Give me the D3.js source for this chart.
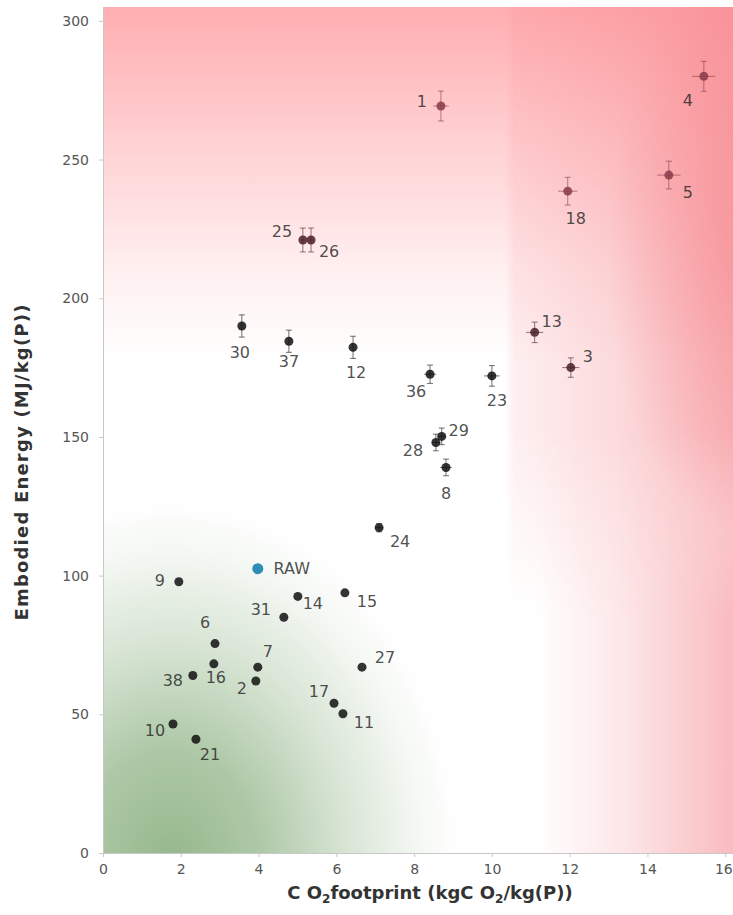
<!DOCTYPE html>
<html>
<head>
<meta charset="utf-8">
<script src="https://cdn.jsdelivr.net/npm/d3@7"></script>
<style>
  body { margin: 0; background: #fff; }
  svg { display: block; font-family: "DejaVu Sans", sans-serif; }
</style>
</head>
<body>
<svg id="chart" width="733" height="915"></svg>
<script>
// sample ids and values
var ids = ['1', '4', '5', '18', '25', '26', '30', '37', '12', '36', '23', '13', '3', '29', '28', '8',
    '24', 'RAW', '9', '14', '15', '31', '6', '16', '7', '2', '38', '27', '17', '11', '10', '21'];
var co2 = [8.69, 15.45, 14.55, 11.95, 5.14, 5.35, 3.57, 4.78, 6.43, 8.41, 10.0, 11.1, 12.03, 8.71, 8.56, 8.82,
    7.10, 3.98, 1.95, 5.01, 6.22, 4.65, 2.88, 2.85, 3.98, 3.93, 2.31, 6.66, 5.94, 6.17, 1.80, 2.39];
var energy = [269.3, 280, 244.4, 238.6, 221, 221, 190, 184.5, 182.3, 172.6, 172, 187.7, 175, 150.2, 148, 139,
    117.3, 102.5, 97.8, 92.5, 93.8, 85, 75.5, 68.2, 67, 62, 64, 67, 54, 50.2, 46.5, 41];
var co2Err = [0.2, 0.3, 0.3, 0.25, 0.05, 0.05, 0, 0, 0, 0.15, 0.2, 0.22, 0.22, 0.1, 0.1, 0.15,
    0.1, 0, 0, 0, 0, 0, 0, 0, 0, 0, 0, 0, 0, 0, 0, 0];
var energyErr = [5.4, 5.4, 5, 5, 4.3, 4.3, 4, 4, 4, 3.3, 3.7, 3.7, 3.5, 3, 3, 3,
    1.5, 0, 0, 0, 0, 0, 0, 0, 0, 0, 0, 0, 0, 0, 0, 0];
var highGroup = ['1', '4', '5', '18'];
var midGroup = ['13', '3', '25', '26'];

var xTicks = [0, 2, 4, 6, 8, 10, 12, 14, 16];
var yTicks = [0, 50, 100, 150, 200, 250, 300];

var points = ids.map(function(id, i) {
    return {id: id, x: co2[i], y: energy[i], ex: co2Err[i], ey: energyErr[i]};
});

var pLeft = 103, pRight = 733, pTop = 7, pBottom = 853;

var x = d3.scaleLinear().domain([0, 16.2]).range([pLeft, pRight]);
var y = d3.scaleLinear().domain([0, 305]).range([pBottom, pTop]);

var svg = d3.select('#chart');
var defs = svg.append('defs');

function addStops(grad, color, stops) {
    stops.forEach(function(s) {
        grad.append('stop').attr('offset', s[0]).attr('stop-color', color).attr('stop-opacity', s[1]);
    });
}

// background colour field
var pink = '#ffaeb1', red = '#f5838a', green = '#8db283';

var topGrad = defs.append('linearGradient').attr('id', 'topGrad')
    .attr('x1', 0).attr('y1', 0).attr('x2', 0).attr('y2', 1);
addStops(topGrad, pink, [[0, 1], [0.4, 0.55], [0.75, 0.18], [1, 0]]);

var sideGradA = defs.append('linearGradient').attr('id', 'sideGradA')
    .attr('x1', 0).attr('y1', 0).attr('x2', 1).attr('y2', 0);
addStops(sideGradA, red, [[0, 0], [0.04, 0.13], [0.5, 0.3], [1, 0.6]]);

var sideGradB = defs.append('linearGradient').attr('id', 'sideGradB')
    .attr('x1', 0).attr('y1', 0).attr('x2', 1).attr('y2', 0);
addStops(sideGradB, red, [[0, 0], [0.45, 0.2], [1, 0.55]]);

var edgeGrad = defs.append('radialGradient').attr('id', 'edgeGrad')
    .attr('gradientUnits', 'userSpaceOnUse')
    .attr('cx', 0).attr('cy', 0).attr('r', 1)
    .attr('gradientTransform', 'translate(745,250) scale(140,280)');
addStops(edgeGrad, red, [[0, 0.5], [0.5, 0.25], [1, 0]]);

// vertical masks to hand over the upper and lower side bands
function vMask(id, stops) {
    var g = defs.append('linearGradient').attr('id', id + 'G')
        .attr('gradientUnits', 'userSpaceOnUse')
        .attr('x1', 0).attr('y1', pTop).attr('x2', 0).attr('y2', pBottom);
    stops.forEach(function(s) { g.append('stop').attr('offset', s[0]).attr('stop-color', s[1]); });
    defs.append('mask').attr('id', id)
        .append('rect')
        .attr('x', pLeft).attr('y', pTop).attr('width', pRight - pLeft).attr('height', pBottom - pTop)
        .attr('fill', 'url(#' + id + 'G)');
}
vMask('maskA', [[0, '#fff'], [0.5, '#fff'], [0.72, '#000'], [1, '#000']]);
vMask('maskB', [[0, '#000'], [0.5, '#000'], [0.72, '#fff'], [1, '#fff']]);

var greenGrad = defs.append('radialGradient').attr('id', 'greenGrad')
    .attr('gradientUnits', 'userSpaceOnUse')
    .attr('cx', 0).attr('cy', 0).attr('r', 1)
    .attr('gradientTransform', 'translate(170,860) scale(290,360)');
addStops(greenGrad, green, [[0, 0.92], [0.3, 0.72], [0.6, 0.35], [0.85, 0.1], [1, 0]]);

var bg = svg.append('g');
bg.append('rect')
    .attr('x', pLeft).attr('y', pTop).attr('width', pRight - pLeft).attr('height', pBottom - pTop)
    .attr('fill', '#fff');
bg.append('rect')
    .attr('x', pLeft).attr('y', pTop).attr('width', pRight - pLeft).attr('height', 355)
    .attr('fill', 'url(#topGrad)');
bg.append('rect')
    .attr('x', pLeft).attr('y', pTop).attr('width', pRight - pLeft).attr('height', pBottom - pTop)
    .attr('fill', 'url(#greenGrad)');
bg.append('rect')
    .attr('x', 505).attr('y', pTop).attr('width', pRight - 505).attr('height', pBottom - pTop)
    .attr('fill', 'url(#sideGradA)')
    .attr('mask', 'url(#maskA)');
bg.append('rect')
    .attr('x', 535).attr('y', pTop).attr('width', pRight - 535).attr('height', pBottom - pTop)
    .attr('fill', 'url(#sideGradB)')
    .attr('mask', 'url(#maskB)');
bg.append('rect')
    .attr('x', pLeft).attr('y', pTop).attr('width', pRight - pLeft).attr('height', pBottom - pTop)
    .attr('fill', 'url(#edgeGrad)');

// axes
var xAxis = svg.append('g')
    .attr('transform', 'translate(0,' + pBottom + ')')
    .call(d3.axisBottom(x).tickValues(xTicks).tickSize(4).tickSizeOuter(0));
var yAxis = svg.append('g')
    .attr('transform', 'translate(' + pLeft + ',0)')
    .call(d3.axisLeft(y).tickValues(yTicks).tickSize(4).tickSizeOuter(0));

[xAxis, yAxis].forEach(function(a) {
    a.select('.domain').attr('stroke', '#c8c8c8');
    a.selectAll('.tick line').attr('stroke', '#c8c8c8');
    a.selectAll('.tick text')
        .attr('fill', '#555')
        .style('font-size', '14px')
        .style('font-family', '"DejaVu Sans", sans-serif');
});
xAxis.selectAll('.tick text').attr('dy', '1.0em');
// keep the last label inside the page
xAxis.selectAll('.tick text').filter(function(d) { return d == 16; })
    .attr('text-anchor', 'end').attr('x', 7);
yAxis.selectAll('.tick text').attr('x', -14);

// axis titles
var xTitle = svg.append('text')
    .attr('x', 430).attr('y', 899)
    .attr('text-anchor', 'middle')
    .attr('font-weight', 'bold')
    .attr('font-size', 18)
    .attr('fill', '#333');
xTitle.append('tspan').text('C O');
xTitle.append('tspan').attr('font-size', 12).attr('dy', 4).text('2');
xTitle.append('tspan').attr('dy', -4).text('footprint (kgC O');
xTitle.append('tspan').attr('font-size', 12).attr('dy', 4).text('2');
xTitle.append('tspan').attr('dy', -4).text('/kg(P))');

svg.append('text')
    .attr('transform', 'translate(28,462) rotate(-90)')
    .attr('text-anchor', 'middle')
    .attr('font-weight', 'bold')
    .attr('font-size', 18)
    .attr('letter-spacing', 1.2)
    .attr('fill', '#333')
    .text('Embodied Energy (MJ/kg(P))');

// marker colours
function markColor(id) {
    if (id == 'RAW') return '#2f8cb8';
    if (highGroup.includes(id)) return '#8a3a48';
    if (midGroup.includes(id)) return '#4a2028';
    return '#111';
}

var marks = svg.append('g');

// error bars
var bars = marks.selectAll('.err')
    .data(points.filter(function(d) { return d.ey > 0 || d.ex > 0; }))
    .enter()
    .append('g')
    .attr('class', 'err')
    .attr('stroke', function(d) { return markColor(d.id); })
    .attr('stroke-opacity', 0.6)
    .attr('stroke-width', 1);

bars.filter(function(d) { return d.ey > 0; }).each(function(d) {
    var g = d3.select(this);
    var cx = x(d.x);
    g.append('line').attr('x1', cx).attr('x2', cx).attr('y1', y(d.y - d.ey)).attr('y2', y(d.y + d.ey));
    g.append('line').attr('x1', cx - 3).attr('x2', cx + 3).attr('y1', y(d.y - d.ey)).attr('y2', y(d.y - d.ey));
    g.append('line').attr('x1', cx - 3).attr('x2', cx + 3).attr('y1', y(d.y + d.ey)).attr('y2', y(d.y + d.ey));
});
bars.filter(function(d) { return d.ex > 0; }).each(function(d) {
    d3.select(this).append('line')
        .attr('x1', x(d.x - d.ex)).attr('x2', x(d.x + d.ex))
        .attr('y1', y(d.y)).attr('y2', y(d.y));
});

// points
marks.selectAll('circle')
    .data(points)
    .enter()
    .append('circle')
    .attr('cx', function(d) { return x(d.x); })
    .attr('cy', function(d) { return y(d.y); })
    .attr('r', function(d) { return d.id == 'RAW' ? 5.5 : 4.5; })
    .attr('fill', function(d) { return markColor(d.id); })
    .attr('fill-opacity', function(d) { return d.id == 'RAW' ? 1 : 0.85; });

// label placement around each point (label centre relative to point, px)
var offsets = {
    '1': [-19, -5], '4': [-16, 24], '5': [19, 17], '18': [8, 27], '25': [-21, -8], '26': [18, 12],
    '30': [-2, 27], '37': [0, 20], '12': [3, 25], '36': [-14, 17], '23': [5, 25], '13': [17, -11],
    '3': [17, -11], '29': [17, -6], '28': [-23, 8], '8': [0, 26], '24': [21, 14], 'RAW': [34, 0],
    '9': [-19, -1], '14': [15, 7], '15': [22, 9], '31': [-23, -8], '6': [-10, -21], '16': [2, 14],
    '7': [10, -16], '2': [-14, 7], '38': [-20, 5], '27': [23, -10], '17': [-15, -12], '11': [21, 9],
    '10': [-18, 6], '21': [14, 15]
};

marks.selectAll('text.lbl')
    .data(points)
    .enter()
    .append('text')
    .attr('class', 'lbl')
    .attr('x', function(d) { return x(d.x) + offsets[d.id][0]; })
    .attr('y', function(d) { return y(d.y) + offsets[d.id][1]; })
    .attr('text-anchor', 'middle')
    .attr('dominant-baseline', 'central')
    .attr('font-size', 16)
    .attr('fill', '#222')
    .attr('fill-opacity', 0.8)
    .text(function(d) { return d.id; });
</script>
</body>
</html>
